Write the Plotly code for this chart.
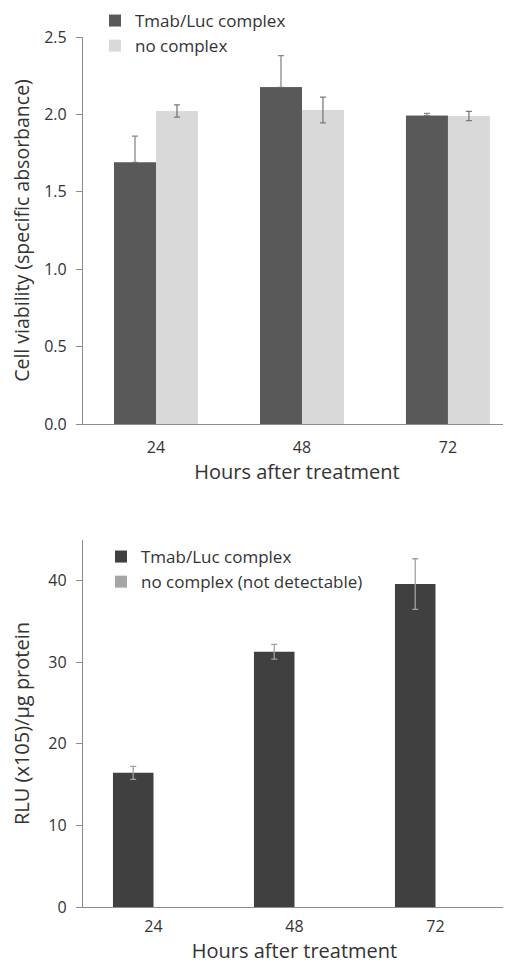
import plotly.graph_objects as go

# ---- data ----
hours = ["24", "48", "72"]

via_complex = [1.69, 2.175, 1.992]
via_complex_err = [0.17, 0.205, 0.015]
via_none = [2.022, 2.028, 1.99]
via_none_err = [0.04, 0.083, 0.03]

rlu_complex = [16.45, 31.3, 39.6]
rlu_complex_err = [0.8, 0.9, 3.1]
rlu_none = [0, 0, 0]

y1_ticks = [0.0, 0.5, 1.0, 1.5, 2.0, 2.5]
y2_ticks = [0, 10, 20, 30, 40]

W, H = 511, 967
OFF = 8  # the page body adds an 8px margin around the figure
FONT = "Open Sans"
TXT = "#333333"
AX = "#8c8c8c"

def px_x(p):
    return (p - OFF) / W

def px_y(p):
    return 1 - (p - OFF) / H

fig = go.Figure()

# top chart: dark bars with upper error only
fig.add_trace(go.Bar(
    x=hours, y=via_complex, name="Tmab/Luc complex",
    offsetgroup="a",
    marker=dict(color="#595959", line=dict(width=0)),
    error_y=dict(type="data", array=via_complex_err,
                 arrayminus=[0, 0, 0], symmetric=False,
                 color="#8a8a8a", thickness=1.3, width=3),
    xaxis="x", yaxis="y", legend="legend",
))
# same bars again, drawn on top so the lower cap of the error bar is hidden
fig.add_trace(go.Bar(
    x=hours, y=via_complex, name="Tmab/Luc complex",
    offsetgroup="a", showlegend=False, hoverinfo="skip",
    marker=dict(color="#595959", line=dict(width=0)),
    xaxis="x", yaxis="y",
))
fig.add_trace(go.Bar(
    x=hours, y=via_none, name="no complex",
    offsetgroup="b",
    marker=dict(color="#d9d9d9", line=dict(width=0)),
    error_y=dict(type="data", array=via_none_err,
                 color="#7a7a7a", thickness=1.3, width=3),
    xaxis="x", yaxis="y", legend="legend",
))
fig.add_trace(go.Bar(
    x=hours, y=rlu_complex, name="Tmab/Luc complex",
    marker=dict(color="#404040", line=dict(width=0)),
    error_y=dict(type="data", array=rlu_complex_err,
                 color="#a0a0a0", thickness=1.3, width=3),
    xaxis="x2", yaxis="y2", legend="legend2",
))
fig.add_trace(go.Bar(
    x=hours, y=rlu_none, name="no complex (not detectable)",
    marker=dict(color="#a6a6a6", line=dict(width=0)),
    xaxis="x2", yaxis="y2", legend="legend2",
))

axis_common = dict(
    showline=True, linecolor=AX, linewidth=1.3,
    showgrid=False, zeroline=False, automargin=False,
    tickfont=dict(family=FONT, size=16, color=TXT),
)
title_font = dict(family=FONT, size=20, color=TXT)

fig.update_layout(
    width=W, height=H,
    margin=dict(l=0, r=0, t=0, b=0, pad=0, autoexpand=False),
    paper_bgcolor="white", plot_bgcolor="white",
    barmode="group", bargap=0.425, bargroupgap=0,
    font=dict(family=FONT, color=TXT),
    xaxis=dict(
        domain=[px_x(83), px_x(511)], anchor="y", type="category",
        range=[-0.5, 2.432], ticks="", ticklabelstandoff=9, **axis_common,
        title=dict(text="Hours after treatment", font=title_font, standoff=7),
    ),
    yaxis=dict(
        domain=[px_y(424), px_y(37)], anchor="x",
        range=[0, 2.5], tickvals=y1_ticks,
        ticktext=[f"{v:.1f}" for v in y1_ticks],
        ticks="outside", ticklen=6, tickcolor=AX, ticklabelstandoff=6,
        **axis_common,
        title=dict(text="Cell viability (specific absorbance)",
                   font=dict(family=FONT, size=19.5, color=TXT), standoff=19),
    ),
    xaxis2=dict(
        domain=[px_x(83), px_x(506)], anchor="y2", type="category",
        range=[-0.5, 2.5], ticks="", ticklabelstandoff=5, **axis_common,
        title=dict(text="Hours after treatment", font=title_font, standoff=4),
    ),
    yaxis2=dict(
        domain=[px_y(907), px_y(540)], anchor="x2",
        range=[0, 45], tickvals=y2_ticks,
        ticks="outside", ticklen=6, tickcolor=AX, ticklabelstandoff=6,
        **axis_common,
        title=dict(text="RLU (x105)/µg protein", font=title_font, standoff=29),
    ),
    legend=dict(
        x=px_x(95), y=px_y(3), xanchor="left", yanchor="top",
        bgcolor="rgba(0,0,0,0)", font=dict(family=FONT, size=17, color=TXT),
        tracegroupgap=0, itemwidth=30, traceorder="normal",
    ),
    legend2=dict(
        x=px_x(101), y=px_y(539), xanchor="left", yanchor="top",
        bgcolor="rgba(0,0,0,0)", font=dict(family=FONT, size=17, color=TXT),
        tracegroupgap=0, itemwidth=30, traceorder="normal",
    ),
)

fig.write_html("out.html")
